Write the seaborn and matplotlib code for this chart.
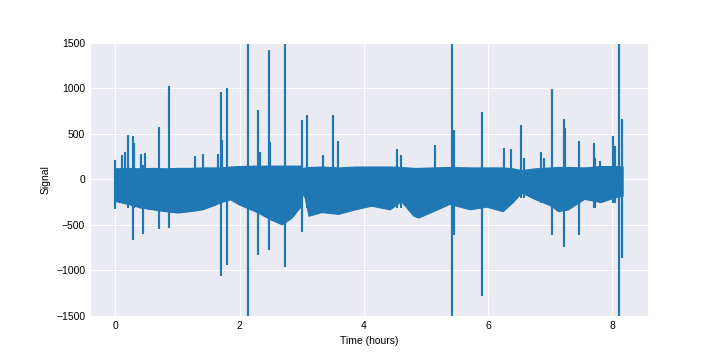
import numpy as np
import pandas as pd
import seaborn as sns
import matplotlib
matplotlib.use("Agg")
import matplotlib.pyplot as plt
from matplotlib.ticker import MultipleLocator

# -------------------------
# Values
# -------------------------
# envelope of the dense background signal (hours, upper edge, lower edge)
env_t = [0.00, 0.20, 0.40, 0.60, 0.80, 1.00, 1.20, 1.40, 1.60, 1.70, 1.85, 2.00,
         2.25, 2.50, 2.68, 2.84, 2.98, 3.00, 3.05, 3.11, 3.32, 3.59, 3.86, 4.12,
         4.42, 4.60, 4.70, 4.80, 4.88, 5.12, 5.38, 5.71, 5.97, 6.24, 6.40, 6.54,
         6.75, 7.02, 7.13, 7.29, 7.55, 7.82, 8.03, 8.17]
env_hi = [120, 125, 120, 125, 120, 125, 125, 130, 130, 130, 140, 145,
          150, 150, 150, 150, 150, 120, 130, 135, 140, 130, 140, 140,
          140, 135, 130, 125, 125, 130, 135, 130, 130, 130, 120, 100,
          120, 130, 135, 135, 130, 145, 145, 140]
env_lo = [-240, -270, -310, -330, -350, -365, -350, -330, -280, -250, -220, -280,
          -350, -440, -495, -420, -300, -145, -200, -400, -360, -380, -330, -290,
          -330, -240, -320, -400, -420, -350, -270, -330, -300, -350, -250, -145,
          -215, -290, -350, -330, -215, -250, -200, -180]

# artefact spikes (hours, peak, trough)
spike_t = [0.00, 0.11, 0.16, 0.21, 0.28, 0.30, 0.42, 0.45, 0.48, 0.70, 0.87, 1.28,
           1.41, 1.65, 1.70, 1.72, 1.79, 2.14, 2.30, 2.33, 2.47, 2.49, 2.73, 3.01,
           3.09, 3.34, 3.50, 3.59, 4.54, 4.60, 5.14, 5.42, 5.45, 5.91, 6.26, 6.37,
           6.53, 6.58, 6.85, 6.90, 7.03, 7.22, 7.24, 7.46, 7.71, 7.73, 7.80, 8.01,
           8.05, 8.11, 8.16]
spike_hi = [200, 256, 286, 476, 465, 390, 270, 150, 275, 560, 1015, 245,
            270, 265, 946, 420, 990, 1800, 750, 290, 1410, 400, 1800, 640,
            690, 250, 690, 405, 320, 255, 365, 1800, 530, 725, 330, 320,
            585, 220, 290, 225, 980, 650, 550, 405, 385, 225, 190, 460,
            350, 1800, 650]
spike_lo = [-310, -250, -250, -300, -660, -300, -300, -585, -300, -530, -520, -300,
            -300, -250, -1050, -250, -935, -1800, -825, -300, -770, -400, -955, -570,
            -300, -300, -300, -300, -300, -300, -300, -1800, -600, -1265, -250, -250,
            -200, -200, -250, -250, -605, -735, -300, -605, -300, -300, -250, -250,
            -250, -1800, -850]

yticks = [-1500, -1000, -500, 0, 500, 1000, 1500]

# -------------------------
# Spike path: up to peak, down to trough, back to baseline
# -------------------------
path_t, path_y = [], []
for t, hi, lo in zip(spike_t, spike_hi, spike_lo):
    path_t += [t, t, t, t]
    path_y += [0, hi, lo, 0]
spikes = pd.DataFrame({"time": path_t, "signal": path_y})

# -------------------------
# Plot
# -------------------------
sns.set_style("darkgrid")
plt.rcParams["font.family"] = ["Liberation Sans", "DejaVu Sans"]
plt.rcParams["axes.unicode_minus"] = True

fig, ax = plt.subplots(figsize=(7.2, 3.55), dpi=100)
color = "#1f77b4"
ax.fill_between(env_t, env_lo, env_hi, color=color, linewidth=0.8, edgecolor=color)
sns.lineplot(data=spikes, x="time", y="signal", sort=False, estimator=None,
             color=color, linewidth=1.5, ax=ax)

ax.set_ylim(-1500, 1500)
ax.set_yticks(yticks)
ax.xaxis.set_major_locator(MultipleLocator(2))
ax.set_xlabel("Time (hours)", fontsize=7.5, color="black")
ax.set_ylabel("Signal", fontsize=7.5, color="black")
ax.tick_params(labelsize=7.5, colors="black", length=0)

plt.savefig("out.png", dpi=100)
